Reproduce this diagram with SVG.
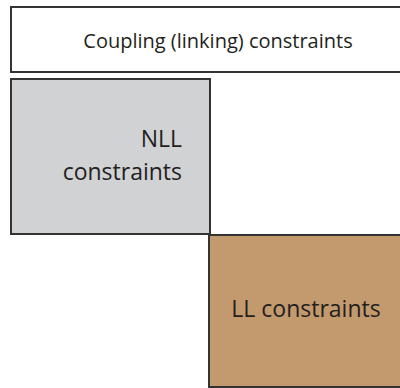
<svg xmlns="http://www.w3.org/2000/svg" width="400" height="388" viewBox="0 0 400 388">
<style>
.box{stroke:#333333;stroke-width:2}
.t{font-family:"Open Sans","Noto Sans",sans-serif;fill:#231f20}
</style>
<rect width="400" height="388" fill="#ffffff"/>
<g id="coupling">
<rect class="box" x="11" y="7" width="395" height="65" fill="#ffffff"/>
<text class="t" x="218" y="48" font-size="20" text-anchor="middle">Coupling (linking) constraints</text>
</g>
<g id="nll">
<rect class="box" x="11" y="79" width="199" height="155" fill="#d1d2d4"/>
<text class="t" x="182" y="147" font-size="23" text-anchor="end">NLL</text>
<text class="t" x="182" y="180" font-size="23" text-anchor="end">constraints</text>
</g>
<g id="ll">
<rect class="box" x="209" y="235" width="197" height="152" fill="#c39a6d"/>
<text class="t" x="306" y="317" font-size="23" text-anchor="middle">LL constraints</text>
</g>
<g id="connectors"></g>
</svg>
